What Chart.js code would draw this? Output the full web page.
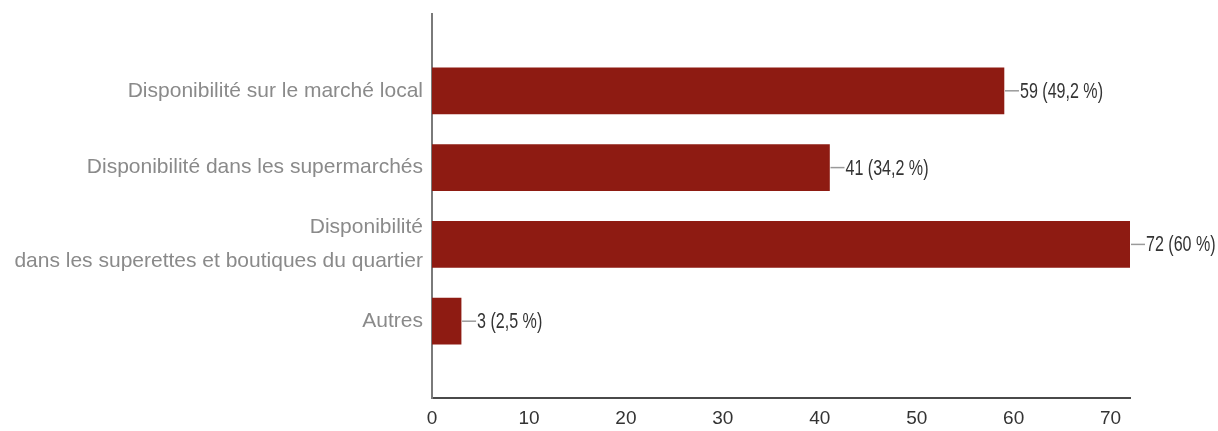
<!DOCTYPE html>
<html>
<head>
<meta charset="utf-8">
<script src="https://cdn.jsdelivr.net/npm/chart.js@4/dist/chart.umd.min.js"></script>
<style>
  html, body { margin: 0; padding: 0; background: #ffffff; }
  #wrap { width: 1218px; height: 431px; position: relative; }
</style>
</head>
<body>
<div id="wrap"><canvas id="chart"></canvas></div>
<script>
// Survey answers: where the product is usually found
const categories = [
  'Disponibilité sur le marché local',
  'Disponibilité dans les supermarchés',
  ['Disponibilité', 'dans les superettes et boutiques du quartier'],
  'Autres'
];
const counts = [59, 41, 72, 3];
const shares = ['49,2', '34,2', '60', '2,5'];
const xTicks = [0, 10, 20, 30, 40, 50, 60, 70];

const FONT = "'Liberation Sans', Arial, sans-serif";

// Value labels with a short leader line to the right of each bar,
// set in a narrow (horizontally condensed) face
const valueLabels = {
  id: 'valueLabels',
  afterDatasetsDraw(chart) {
    const ctx = chart.ctx;
    const meta = chart.getDatasetMeta(0);
    const squeeze = 0.73;
    meta.data.forEach((bar, i) => {
      const x = bar.x, y = bar.y;
      ctx.save();
      ctx.strokeStyle = '#9a9a9a';
      ctx.lineWidth = 1.5;
      ctx.beginPath();
      ctx.moveTo(x + 1, y);
      ctx.lineTo(x + 15, y);
      ctx.stroke();
      ctx.translate(x + 16, y + 1);
      ctx.scale(squeeze, 1);
      ctx.font = `22px ${FONT}`;
      ctx.textBaseline = 'middle';
      ctx.textAlign = 'left';
      ctx.fillStyle = '#333333';
      ctx.fillText(`${counts[i]} (${shares[i]} %)`, 0, 0);
      ctx.restore();
    });
  }
};

new Chart(document.getElementById('chart'), {
  type: 'bar',
  data: {
    datasets: [{
      data: counts.map((v, i) => ({ x: v, y: i })),
      backgroundColor: '#8e1b12',
      borderWidth: 0,
      barThickness: 46
    }]
  },
  options: {
    indexAxis: 'y',
    responsive: true,
    maintainAspectRatio: false,
    animation: false,
    layout: { padding: { top: 14, right: 88, bottom: 0, left: 0 } },
    plugins: { legend: { display: false }, tooltip: { enabled: false } },
    scales: {
      x: {
        type: 'linear',
        min: 0,
        max: 72,
        afterBuildTicks(scale) { scale.ticks = xTicks.map(v => ({ value: v })); },
        afterFit(scale) {
          scale.height = 33;
          scale.paddingLeft = 0;
          scale.paddingRight = 0;
        },
        grid: { display: false, drawTicks: false },
        border: { display: true, color: '#4a4a4a', width: 2 },
        ticks: {
          padding: 9,
          color: '#333333',
          font: { family: FONT, size: 19 },
          maxRotation: 0
        }
      },
      y: {
        type: 'linear',
        offset: false,
        min: -1,
        max: 4,
        reverse: true,
        afterBuildTicks(scale) {
          scale.ticks = categories.map((c, i) => ({ value: i }));
        },
        afterFit(scale) {
          scale.width = 432;
          scale.paddingTop = 0;
          scale.paddingBottom = 0;
        },
        grid: { display: false, drawTicks: false },
        border: { display: true, color: '#7a7a7a', width: 2 },
        ticks: {
          padding: 9,
          color: '#8a8a8a',
          font: { family: FONT, size: 21, lineHeight: 1.6 },
          callback: (v) => categories[v]
        }
      }
    }
  },
  plugins: [valueLabels]
});
</script>
</body>
</html>
